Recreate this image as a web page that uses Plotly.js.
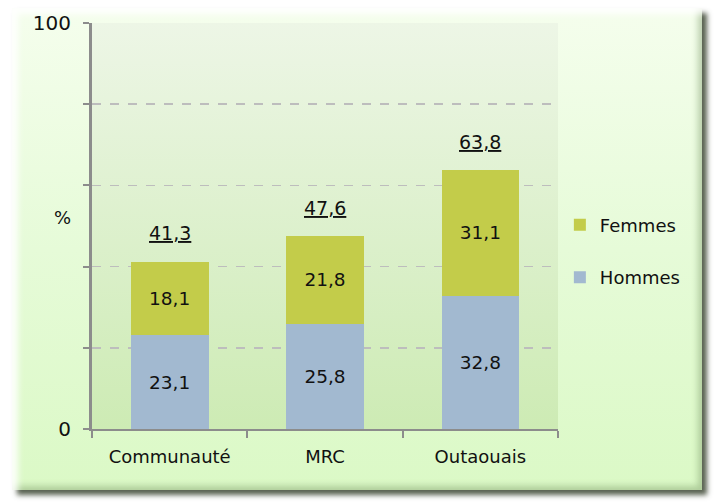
<!DOCTYPE html>
<html>
<head>
<meta charset="utf-8">
<script src="https://cdn.plot.ly/plotly-3.0.1.min.js"></script>
<style>
html,body{margin:0;padding:0;background:#ffffff;width:714px;height:504px;overflow:hidden;}
#frame{position:absolute;left:12px;top:8px;width:690px;height:482px;
 background:linear-gradient(to bottom,#f5feed 0%,#e6fbd8 50%,#dbf9c6 100%);
 box-shadow: inset 6px 6px 6px rgba(255,255,255,0.9), inset -4px -4px 6px rgba(120,150,100,0.45), 5px 5px 5px rgba(60,70,50,0.85);}
#chart{position:absolute;left:0;top:0;width:714px;height:504px;}
</style>
</head>
<body>
<div id="frame"></div>
<div id="chart"></div>
<script>
var categories = ['Communauté', 'MRC', 'Outaouais'];
var hommes = [23.1, 25.8, 32.8];
var femmes = [18.1, 21.8, 31.1];
var totals = [41.3, 47.6, 63.8];
var yTickVals = [0, 20, 40, 60, 80, 100];
var yTickText = ['0', '', '', '', '', '100'];

function fr(v){ return v.toFixed(1).replace('.', ','); }

var FONT = 'DejaVu Sans, sans-serif';

var gradSvg = '<svg xmlns="http://www.w3.org/2000/svg" width="10" height="100" preserveAspectRatio="none">' +
  '<defs><linearGradient id="g" x1="0" y1="0" x2="0" y2="1">' +
  '<stop offset="0" stop-color="#edf6e6"/><stop offset="1" stop-color="#cdebb4"/></linearGradient></defs>' +
  '<rect width="10" height="100" fill="url(#g)"/></svg>';
var gradUri = 'data:image/svg+xml;base64,' + btoa(gradSvg);

var traces = [
  {type:'bar', name:'Hommes', x:categories, y:hommes, text:hommes.map(fr),
   textposition:'inside', insidetextanchor:'middle', textangle:0,
   textfont:{family:FONT, size:18.5, color:'#111'},
   marker:{color:'#a2b9d0'}, hoverinfo:'none', legendgroup:'h', legendrank:2},
  {type:'bar', name:'Femmes', x:categories, y:femmes, text:femmes.map(fr),
   textposition:'inside', insidetextanchor:'middle', textangle:0,
   textfont:{family:FONT, size:18.5, color:'#111'},
   marker:{color:'#c3cc4a'}, hoverinfo:'none', legendgroup:'f', legendrank:1}
];

var annotations = categories.map(function(c, i){
  return {x:c, y:totals[i], xref:'x', yref:'y', text:'<u>'+fr(totals[i])+'</u>',
    showarrow:false, yanchor:'bottom', yshift:15,
    font:{family:FONT, size:19, color:'#111'}};
});
annotations.push({x:-0.064, y:52, xref:'paper', yref:'y', text:'%', showarrow:false,
  xanchor:'center', yanchor:'middle', font:{family:FONT, size:18, color:'#111'}});

var layout = {
  width:714, height:504,
  margin:{l:92, r:156, t:23, b:75},
  paper_bgcolor:'rgba(0,0,0,0)',
  plot_bgcolor:'rgba(0,0,0,0)',
  barmode:'stack', bargap:0.5,
  font:{family:FONT, size:16, color:'#111'},
  images:[{source:gradUri, xref:'paper', yref:'paper', x:0, y:1, sizex:1, sizey:1,
    sizing:'stretch', layer:'below', xanchor:'left', yanchor:'top'}],
  xaxis:{showline:true, linecolor:'#8c8c8c', linewidth:2, ticks:'outside', tickson:'boundaries',
    ticklen:7, tickcolor:'#8c8c8c', tickwidth:2, showgrid:false, ticklabelstandoff:10,
    tickfont:{family:FONT, size:18, color:'#111'}, fixedrange:true},
  yaxis:{range:[0,100], tickvals:yTickVals, ticktext:yTickText, showline:true, linecolor:'#8c8c8c',
    linewidth:3, ticks:'outside', ticklen:6, tickcolor:'#8c8c8c', tickwidth:2, ticklabelstandoff:8,
    showgrid:true, gridcolor:'#bdbdbd', griddash:'dash', gridwidth:1.5, zeroline:false,
    tickfont:{family:FONT, size:20, color:'#111'}, fixedrange:true},
  legend:{x:1.004, y:0.438, xanchor:'left', yanchor:'middle', traceorder:'grouped',
    tracegroupgap:26, bgcolor:'rgba(0,0,0,0)', font:{family:FONT, size:18, color:'#111'},
    itemwidth:30},
  annotations:annotations,
  showlegend:true
};

Plotly.newPlot('chart', traces, layout, {displayModeBar:false, staticPlot:true});
</script>
</body>
</html>
